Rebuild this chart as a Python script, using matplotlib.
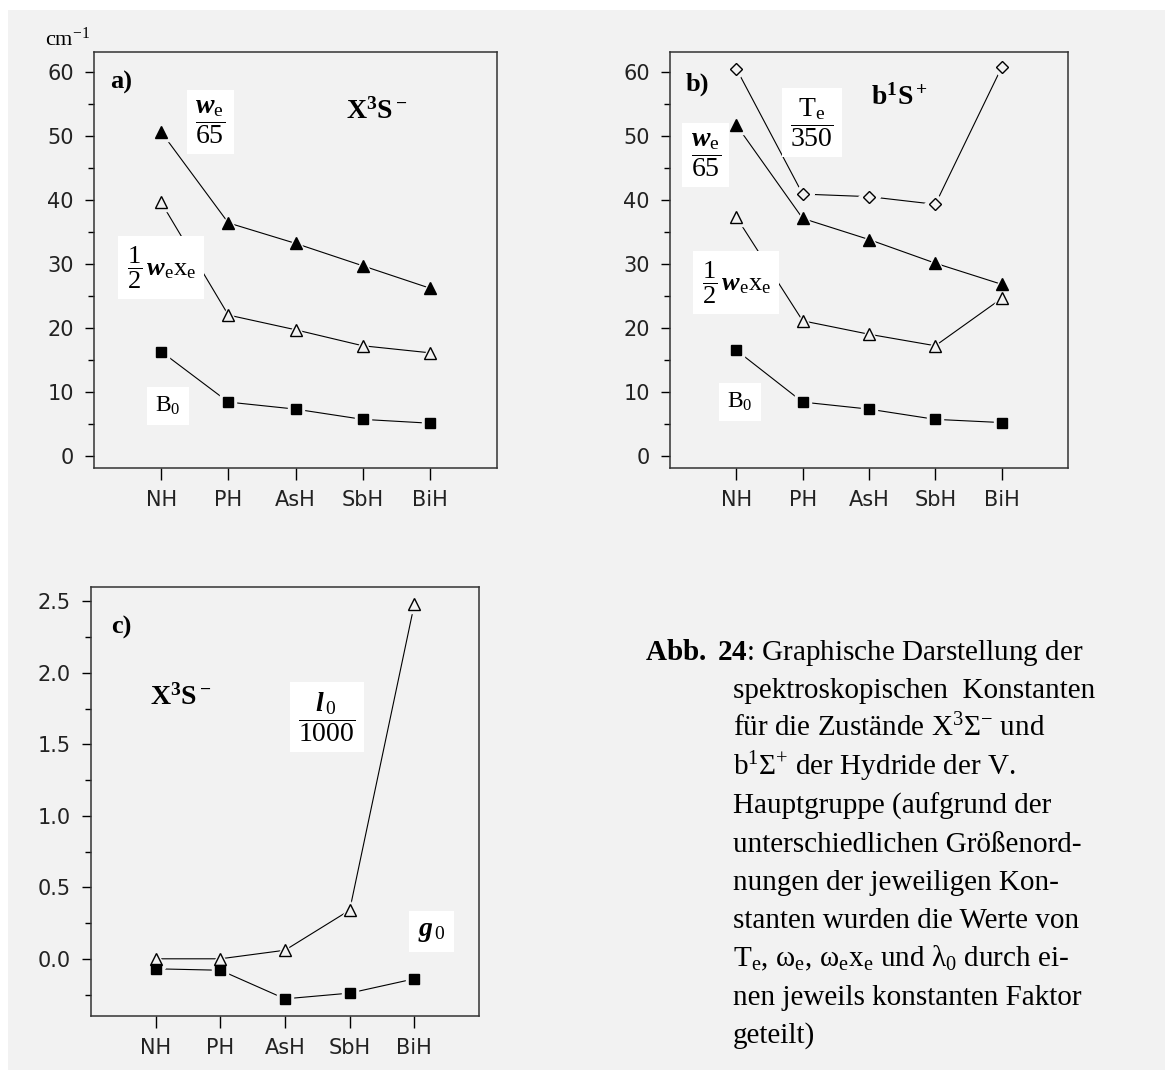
import numpy as np
import matplotlib.pyplot as plt
from matplotlib.patches import Rectangle

W, H = 1165, 1070
BG = '#f2f2f2'

molecules = ['NH', 'PH', 'AsH', 'SbH', 'BiH']

# a) X3S- state
a_we = [50.6, 36.4, 33.2, 29.7, 26.2]
a_wexe = [39.6, 22.0, 19.7, 17.2, 16.1]
a_b0 = [16.3, 8.4, 7.3, 5.7, 5.1]

# b) b1S+ state
b_te = [60.5, 40.9, 40.5, 39.3, 60.7]
b_we = [51.7, 37.1, 33.8, 30.1, 26.8]
b_wexe = [37.3, 21.1, 19.0, 17.2, 24.6]
b_b0 = [16.5, 8.4, 7.3, 5.7, 5.2]

# c) X3S- spin constants
c_l0 = [0.0, 0.0, 0.06, 0.34, 2.48]
c_g0 = [-0.07, -0.08, -0.28, -0.24, -0.14]

plt.rcParams['mathtext.fontset'] = 'custom'
plt.rcParams['mathtext.rm'] = 'Liberation Serif'
plt.rcParams['mathtext.it'] = 'Liberation Serif:italic'
plt.rcParams['mathtext.bf'] = 'Liberation Serif:bold'
plt.rcParams['mathtext.bfit'] = 'Liberation Serif:italic:bold'
plt.rcParams['font.family'] = 'Liberation Serif'

fig = plt.figure(figsize=(W / 100, H / 100), dpi=100, facecolor='white')
fig.patches.append(Rectangle((8 / W, 0), 1 - 8 / W, 1 - 10 / H, transform=fig.transFigure,
                             fc=BG, ec='none', zorder=-10))


def px(x0, y0, x1, y1):
    # pixel box -> figure fraction
    return [x0 / W, 1 - y1 / H, (x1 - x0) / W, (y1 - y0) / H]


def series(ax, y, marker, filled, ms):
    x = np.arange(len(molecules))
    ax.plot(x, y, color='black', lw=0.8, zorder=2)
    ax.plot(x, y, ls='none', marker=marker, ms=ms + 5, mfc=BG, mec=BG, zorder=3)
    ax.plot(x, y, ls='none', marker=marker, ms=ms, mfc='black' if filled else BG,
            mec='black', mew=1.0, zorder=4)


def setup(ax, ylim, major, minor, fmt):
    ax.set_facecolor('none')
    ax.set_xlim(-1, 5)
    ax.set_ylim(*ylim)
    ax.set_xticks(range(len(molecules)))
    ax.set_xticklabels(molecules)
    ax.set_yticks(major)
    ax.set_yticklabels([fmt % v for v in major])
    ax.set_yticks(minor, minor=True)
    ax.tick_params(axis='x', length=8.5, width=1, pad=7, labelsize=15)
    ax.tick_params(axis='y', which='major', length=6.5, width=1, pad=8, labelsize=15)
    ax.tick_params(axis='y', which='minor', length=4.5, width=1)
    for lab in ax.get_xticklabels() + ax.get_yticklabels():
        lab.set_family('DejaVu Sans')
        lab.set_color('#222222')
    for s in ax.spines.values():
        s.set_linewidth(1.1)
        s.set_color('#333333')


def label(ax, x, y, s, size=20, box=True, **kw):
    bb = dict(fc='white', ec='none', pad=6) if box else None
    ax.text(x, y, s, fontsize=size, ha='center', va='center', bbox=bb, zorder=5, **kw)


# panel a
ax1 = fig.add_axes(px(94, 52, 497, 468))
setup(ax1, (-1.9, 63.1), np.arange(0, 61, 10), np.arange(5, 60, 10), '%d')
series(ax1, a_we, '^', True, 8.5)
series(ax1, a_wexe, '^', False, 8.5)
series(ax1, a_b0, 's', True, 7)
label(ax1, -0.6, 58.3, 'a)', size=19, box=False, fontweight='bold')
label(ax1, 3.2, 53.8, r'$\mathbf{X^3S^-}$', size=20, box=False)
label(ax1, 0.73, 52.2, r'$\dfrac{\mathbfit{w}_\mathrm{e}}{65}$')
label(ax1, 0.0, 29.4, r'$\dfrac{1}{2}\,\mathbfit{w}_\mathrm{e}\mathrm{x}_\mathrm{e}$', size=19)
label(ax1, 0.1, 7.8, r'$\mathrm{B}_0$', size=17)
fig.text(45 / W, 1 - 46 / H, r'cm$^{-1}$', fontsize=16, ha='left', va='baseline')

# panel b
ax2 = fig.add_axes(px(670, 52, 1068, 468))
setup(ax2, (-1.9, 63.1), np.arange(0, 61, 10), np.arange(5, 60, 10), '%d')
series(ax2, b_te, 'D', False, 6.5)
series(ax2, b_we, '^', True, 8.5)
series(ax2, b_wexe, '^', False, 8.5)
series(ax2, b_b0, 's', True, 7)
label(ax2, -0.59, 58.1, 'b)', size=19, box=False, fontweight='bold')
label(ax2, 2.45, 56.0, r'$\mathbf{b^1S^+}$', size=20, box=False)
label(ax2, 1.14, 52.1, r'$\dfrac{\mathrm{T}_\mathrm{e}}{350}$')
label(ax2, -0.46, 47.0, r'$\dfrac{\mathbfit{w}_\mathrm{e}}{65}$')
label(ax2, 0.0, 27.1, r'$\dfrac{1}{2}\,\mathbfit{w}_\mathrm{e}\mathrm{x}_\mathrm{e}$', size=19)
label(ax2, 0.05, 8.4, r'$\mathrm{B}_0$', size=17)

# panel c
ax3 = fig.add_axes(px(91, 587, 479, 1016))
setup(ax3, (-0.4, 2.6), np.arange(0, 2.51, 0.5), np.arange(-0.25, 2.5, 0.5), '%.1f')
series(ax3, c_l0, '^', False, 8.5)
series(ax3, c_g0, 's', True, 7)
label(ax3, -0.53, 2.32, 'c)', size=19, box=False, fontweight='bold')
label(ax3, 0.38, 1.83, r'$\mathbf{X^3S^-}$', size=20, box=False)
label(ax3, 2.65, 1.69, r'$\dfrac{\mathbfit{l}_{\,0}}{1000}$', size=20)
label(ax3, 4.27, 0.19, r'$\mathbfit{g}_{\,0}$', size=20)

# caption
caption = [
    r'$\mathbf{Abb.}$ $\mathbf{24}$: Graphische Darstellung der',
    'spektroskopischen  Konstanten',
    r'für die Zustände X$^3\Sigma^{-}$ und',
    r'b$^1\Sigma^{+}$ der Hydride der V.',
    'Hauptgruppe (aufgrund der',
    'unterschiedlichen Größenord-',
    'nungen der jeweiligen Kon-',
    'stanten wurden die Werte von',
    r'T$_\mathrm{e}$, ω$_\mathrm{e}$, ω$_\mathrm{e}$x$_\mathrm{e}$ und λ$_0$ durch ei-',
    'nen jeweils konstanten Faktor',
    'geteilt)',
]
for i, line in enumerate(caption):
    x0 = 645 if i == 0 else 733
    fig.text(x0 / W, 1 - (660 + 38.3 * i) / H, line, fontsize=21, ha='left', va='baseline')

fig.savefig('out.png', dpi=100, facecolor='white')
